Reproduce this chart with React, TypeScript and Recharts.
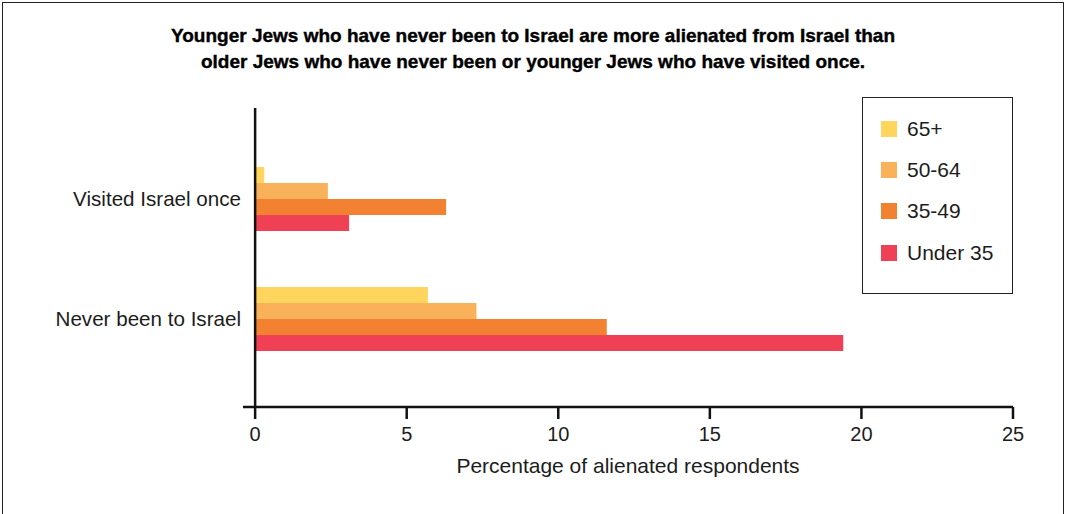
import React from "react";
import { BarChart, Bar, XAxis, YAxis, Legend, ReferenceLine } from "recharts";

const categories = ["Visited Israel once", "Never been to Israel"];
const age65Plus = [0.3, 5.7];
const age50to64 = [2.4, 7.3];
const age35to49 = [6.3, 11.6];
const under35 = [3.1, 19.4];
const xTicks = [0, 5, 10, 15, 20, 25];

const series = [
  { key: "a65", name: "65+", color: "#FFD55E", values: age65Plus },
  { key: "a50", name: "50-64", color: "#F9B15A", values: age50to64 },
  { key: "a35", name: "35-49", color: "#F28231", values: age35to49 },
  { key: "u35", name: "Under 35", color: "#EF4056", values: under35 },
];

const data = categories.map((group, i) => {
  const row: Record<string, string | number> = { group };
  series.forEach((s) => {
    row[s.key] = s.values[i];
  });
  return row;
});

const FONT = "'Liberation Sans', Arial, Helvetica, sans-serif";
const INK = "#1c1c1c";

// legend keeps the series order (recharts would sort it by name)
const LegendBox = () => (
  <div
    style={{
      boxSizing: "border-box",
      width: 151,
      height: 197,
      border: "1.5px solid #222",
      background: "#fff",
      paddingTop: 10,
      paddingLeft: 18,
      fontFamily: FONT,
    }}
  >
    {series.map((s) => (
      <div key={s.key} style={{ display: "flex", alignItems: "center", height: 41.3 }}>
        <span style={{ width: 16, height: 16, background: s.color, display: "inline-block" }} />
        <span style={{ marginLeft: 10, fontSize: 21, color: INK }}>{s.name}</span>
      </div>
    ))}
  </div>
);

export default function App() {
  return (
    <div
      style={{
        position: "absolute",
        left: 0,
        top: 0,
        width: 1066,
        height: 514,
        overflow: "hidden",
        background: "#fff",
      }}
    >
      <div
        style={{
          position: "absolute",
          left: 2,
          top: 2,
          width: 1060,
          height: 540,
          border: "1.5px solid #222",
        }}
      />
      <div
        style={{
          position: "absolute",
          left: 0,
          top: 23,
          width: 1066,
          textAlign: "center",
          fontFamily: FONT,
          fontWeight: 700,
          fontSize: 19,
          lineHeight: "26px",
          color: "#000",
          WebkitTextStroke: "0.4px #000",
        }}
      >
        <div>Younger Jews who have never been to Israel are more alienated from Israel than</div>
        <div>older Jews who have never been or younger Jews who have visited once.</div>
      </div>
      <div style={{ position: "absolute", left: 0, top: 0 }}>
        <BarChart
          width={1066}
          height={514}
          data={data}
          layout="vertical"
          margin={{ top: 108, right: 53, bottom: 32, left: 43 }}
          barSize={16}
          barGap={0}
        >
          <XAxis
            type="number"
            domain={[-0.4, 25]}
            ticks={xTicks}
            allowDataOverflow
            height={75}
            axisLine={{ stroke: "#111", strokeWidth: 2.5 }}
            tickLine={{ stroke: "#111", strokeWidth: 2.5 }}
            tickSize={12}
            tickMargin={8}
            tick={{ fill: INK, fontSize: 20, fontFamily: FONT }}
            label={{
              value: "Percentage of alienated respondents",
              position: "insideBottom",
              offset: 9,
              fill: INK,
              fontSize: 21,
              fontFamily: FONT,
            }}
          />
          <YAxis
            type="category"
            dataKey="group"
            width={200}
            axisLine={false}
            tickLine={false}
            tickSize={0}
            tickMargin={2}
            padding={{ top: 31, bottom: 28 }}
            tick={{ fill: INK, fontSize: 20.6, fontFamily: FONT }}
          />
          {series.map((s) => (
            <Bar key={s.key} dataKey={s.key} name={s.name} fill={s.color} isAnimationActive={false} />
          ))}
          <ReferenceLine x={0} stroke="#111" strokeWidth={2.5} />
          <Legend
            layout="vertical"
            align="center"
            verticalAlign="middle"
            content={<LegendBox />}
            wrapperStyle={{ left: 862, top: 97, width: 151, height: 197 }}
          />
        </BarChart>
      </div>
    </div>
  );
}
